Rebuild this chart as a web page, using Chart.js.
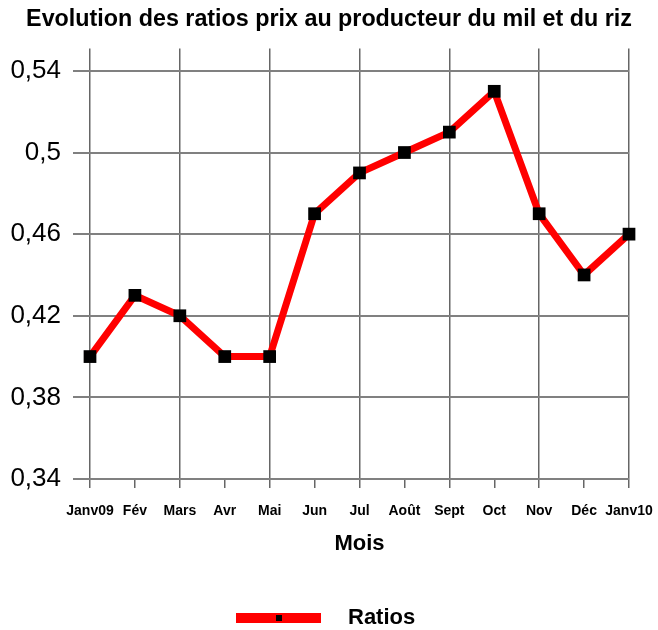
<!DOCTYPE html>
<html>
<head>
<meta charset="utf-8">
<script src="https://cdn.jsdelivr.net/npm/chart.js@4.4.1/dist/chart.umd.min.js"></script>
<style>
  html, body { margin: 0; padding: 0; background: #fff; }
</style>
</head>
<body>
<canvas id="graphique" width="658" height="630"></canvas>
<script>
const mois = ["Janv09", "Fév", "Mars", "Avr", "Mai", "Jun", "Jul", "Août", "Sept", "Oct", "Nov", "Déc", "Janv10"];
const ratios = [0.40, 0.43, 0.42, 0.40, 0.40, 0.47, 0.49, 0.50, 0.51, 0.53, 0.47, 0.44, 0.46];
const graduations = [0.34, 0.38, 0.42, 0.46, 0.50, 0.54];
const titre = "Evolution des ratios prix au producteur du mil et du riz";
const titreAxeX = "Mois";
const nomSerie = "Ratios";

const police = '"Liberation Sans", Arial, sans-serif';

// legende dessinee a la main : barre rouge avec petit carre noir
const legendePerso = {
  id: 'legendePerso',
  afterDraw(chart) {
    const ctx = chart.ctx;
    const ds = chart.data.datasets[0];
    const y = 618;
    const x0 = 236;
    ctx.save();
    ctx.fillStyle = ds.borderColor;
    ctx.fillRect(x0, y - 5, 85, 10);
    ctx.fillStyle = '#000';
    ctx.fillRect(x0 + 40, y - 3, 6, 6);
    ctx.font = 'bold 22px ' + police;
    ctx.textBaseline = 'middle';
    ctx.fillText(ds.label, x0 + 112, y);
    ctx.restore();
  }
};

new Chart(document.getElementById('graphique'), {
  type: 'line',
  data: {
    labels: mois,
    datasets: [{
      label: nomSerie,
      data: ratios,
      borderColor: '#ff0000',
      borderWidth: 7,
      tension: 0,
      pointStyle: 'rect',
      pointRadius: 9,
      pointBackgroundColor: '#000',
      pointBorderColor: '#000',
      pointBorderWidth: 0,
      clip: false
    }]
  },
  options: {
    responsive: false,
    animation: false,
    layout: { padding: { left: 10, right: 10, top: 0, bottom: 71 } },
    plugins: {
      legend: { display: false },
      tooltip: { enabled: false },
      title: {
        display: true,
        text: titre,
        color: '#000',
        font: { family: police, size: 23.3, weight: 'bold' },
        padding: { top: 6, bottom: 14.5 }
      }
    },
    scales: {
      x: {
        grid: {
          color: c => c.index % 2 === 0 ? '#666' : 'rgba(0,0,0,0)',
          tickColor: '#666',
          lineWidth: 1.5,
          tickLength: 9
        },
        border: { display: false },
        ticks: {
          color: '#000',
          font: { family: police, size: 14, weight: 'bold' },
          padding: 15,
          maxRotation: 0,
          autoSkip: false
        },
        title: {
          display: true,
          text: titreAxeX,
          color: '#000',
          font: { family: police, size: 22, weight: 'bold' },
          padding: { top: 4, bottom: 2 }
        },
        afterFit: s => { s.height = 80; s.paddingLeft = 0; s.paddingRight = 29; }
      },
      y: {
        min: 0.34,
        max: 0.5510,
        afterBuildTicks: s => { s.ticks = graduations.map(v => ({ value: v })); },
        grid: { color: '#808080', lineWidth: 2, tickLength: 17 },
        border: { display: false },
        ticks: {
          color: '#000',
          font: { family: police, size: 26 },
          padding: 12,
          callback: v => String(+v.toFixed(2)).replace('.', ',')
        },
        afterFit: s => { s.width = 80; }
      }
    }
  },
  plugins: [legendePerso]
});
</script>
</body>
</html>
